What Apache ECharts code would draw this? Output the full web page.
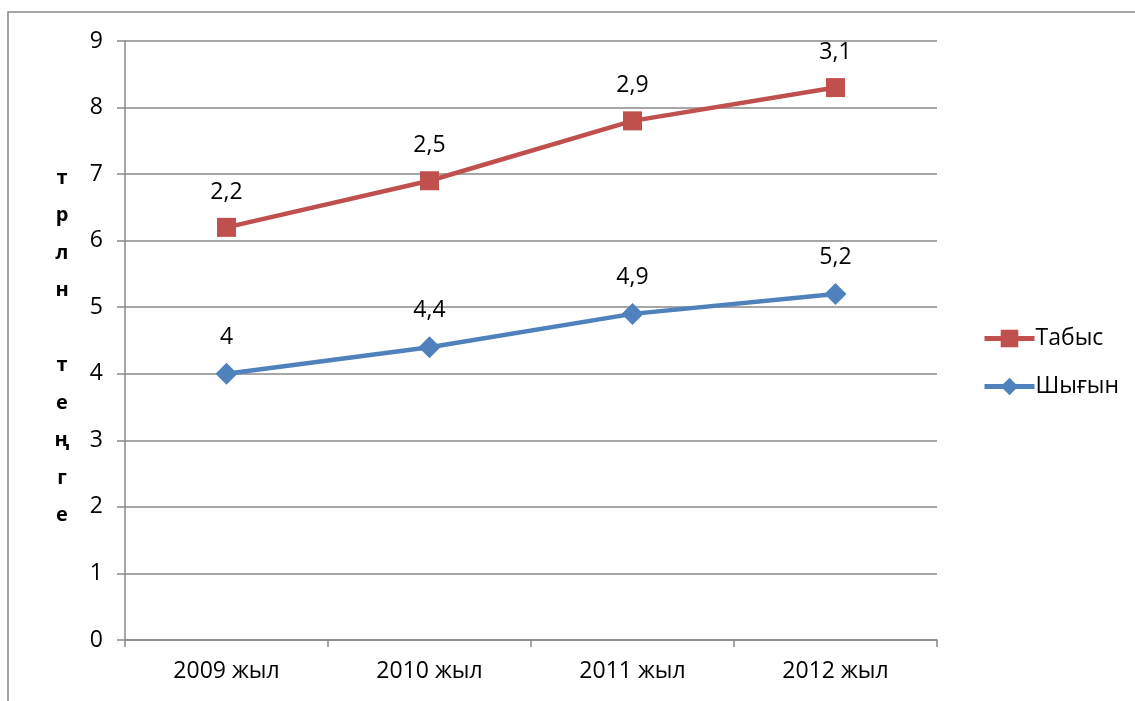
<!DOCTYPE html>
<html>
<head>
<meta charset="utf-8">
<script src="https://cdn.jsdelivr.net/npm/echarts@6/dist/echarts.min.js"></script>
<style>
  html, body { margin: 0; padding: 0; background: #fff; }
  #chart { width: 1135px; height: 701px; }
</style>
</head>
<body>
<div id="chart"></div>
<script>
  // categories and values (Табыс is stacked on top of Шығын)
  let years = ['2009 жыл', '2010 жыл', '2011 жыл', '2012 жыл']
  let shygyn = [4, 4.4, 4.9, 5.2]
  let tabys = [2.2, 2.5, 2.9, 3.1]
  let yTicks = [0, 1, 2, 3, 4, 5, 6, 7, 8, 9]
  let yTitle = ['т', 'р', 'л', 'н', '', 'т', 'е', 'ң', 'г', 'е']

  let font = '"Open Sans", "Noto Sans", sans-serif'
  let gray = '#888888'
  let comma = function (p) {
    return String(p.value).replace('.', ',')
  }

  let chart = echarts.init(document.getElementById('chart'))
  let options = {
    animation: false,
    textStyle: { fontFamily: font },
    grid: {
      left: 125,
      right: 198,
      top: 41,
      bottom: 61
    },
    legend: {
      orient: 'vertical',
      left: 977,
      top: 322,
      itemWidth: 50,
      itemHeight: 22,
      itemGap: 25,
      data: ['Табыс', 'Шығын'],
      lineStyle: { width: 5 },
      textStyle: { fontFamily: font, fontSize: 23, color: '#000', padding: [0, 0, 0, -4] }
    },
    graphic: [
      {
        type: 'rect',
        shape: { x: 8, y: 12, width: 1300, height: 900 },
        style: { fill: 'none', stroke: gray, lineWidth: 1.5 },
        silent: true
      },
      {
        type: 'text',
        x: 62,
        y: 347,
        style: {
          text: yTitle.join('\n'),
          fontFamily: font,
          fontSize: 20,
          fontWeight: 'bold',
          lineHeight: 37.5,
          align: 'center',
          verticalAlign: 'middle',
          fill: '#000'
        }
      }
    ],
    xAxis: {
      type: 'category',
      data: years,
      boundaryGap: true,
      axisLine: { lineStyle: { color: gray, width: 1.5 } },
      axisTick: { show: true, length: 7, lineStyle: { color: gray, width: 1.5 } },
      axisLabel: { margin: 20, fontSize: 23, color: '#000', fontFamily: font }
    },
    yAxis: {
      type: 'value',
      min: yTicks[0],
      max: yTicks[yTicks.length - 1],
      interval: 1,
      axisLine: { show: true, lineStyle: { color: gray, width: 1.5 } },
      axisTick: { show: true, length: 8, lineStyle: { color: gray, width: 1.5 } },
      axisLabel: { margin: 22, fontSize: 23, color: '#000', fontFamily: font },
      splitLine: { lineStyle: { color: gray, width: 1.5 } }
    },
    series: [
      {
        name: 'Шығын',
        type: 'line',
        stack: 'total',
        data: shygyn,
        symbol: 'diamond',
        symbolSize: 22,
        itemStyle: { color: '#4F81BD' },
        lineStyle: { color: '#4F81BD', width: 4.5 },
        label: {
          show: true,
          position: 'top',
          distance: 14,
          fontSize: 23,
          color: '#000',
          fontFamily: font,
          formatter: comma
        }
      },
      {
        name: 'Табыс',
        type: 'line',
        stack: 'total',
        data: tabys,
        symbol: 'rect',
        symbolSize: 19,
        itemStyle: { color: '#C0504D' },
        lineStyle: { color: '#C0504D', width: 4.5 },
        label: {
          show: true,
          position: 'top',
          distance: 14,
          fontSize: 23,
          color: '#000',
          fontFamily: font,
          formatter: comma
        }
      }
    ]
  }
  chart.setOption(options)
</script>
</body>
</html>
